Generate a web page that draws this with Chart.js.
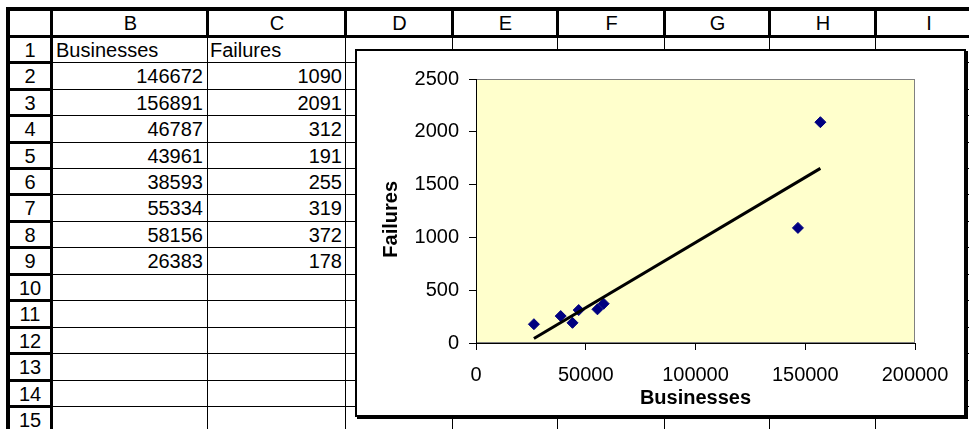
<!DOCTYPE html>
<html>
<head>
<meta charset="utf-8">
<title>Businesses vs Failures</title>
<script src="https://cdn.jsdelivr.net/npm/chart.js@4.4.0/dist/chart.umd.min.js"></script>
<style>
  body { margin: 0; background: #fff; }
  #sheet { position: relative; width: 969px; height: 429px; overflow: hidden;
           font-family: "Liberation Sans", Arial, sans-serif; font-size: 20px; color: #000; }
  .ln { position: absolute; background: #000; }
  .txt { position: absolute; white-space: nowrap; line-height: 26px; height: 26px; }
  #chartBox { position: absolute; left: 355px; top: 49px; width: 607px; height: 364px;
              border: 2px solid #000; box-shadow: 2px 2px 0 #000; background: #fff; }
  #chartBox canvas { display: block; }
</style>
</head>
<body>
<div id="sheet">
  <div id="chartBox"><canvas id="scatterChart" width="607" height="364"></canvas></div>
</div>
<script>
// data from the sheet
var businesses = [146672, 156891, 46787, 43961, 38593, 55334, 58156, 26383];
var failures = [1090, 2091, 312, 191, 255, 319, 372, 178];
var headerB = "Businesses";
var headerC = "Failures";
var columnLetters = ["B", "C", "D", "E", "F", "G", "H", "I"];
var rowCount = 15;
var xTicks = [0, 50000, 100000, 150000, 200000];
var yTicks = [0, 500, 1000, 1500, 2000, 2500];

var FONT = '"Liberation Sans", Arial, sans-serif';

// ---- spreadsheet grid ----
var sheet = document.getElementById("sheet");
var chartBox = document.getElementById("chartBox");
var colX = [52, 207, 345, 452, 557, 664, 769, 875, 981];
function rowY(r) { return 35.7 + 26.45 * r; }

function line(l, t, w, h) {
  var d = document.createElement("div");
  d.className = "ln";
  d.style.left = l + "px"; d.style.top = t + "px";
  d.style.width = w + "px"; d.style.height = h + "px";
  sheet.insertBefore(d, chartBox);
}
function text(str, l, t, w, align) {
  var d = document.createElement("div");
  d.className = "txt";
  d.textContent = str;
  d.style.left = l + "px"; d.style.top = t + "px";
  d.style.width = w + "px"; d.style.textAlign = align;
  sheet.insertBefore(d, chartBox);
}

// thin cell lines
for (var r = 1; r <= rowCount; r++) line(53, Math.round(rowY(r)), 916, 1);
for (var i = 1; i < colX.length - 1; i++) line(colX[i], 37, 1, 392);
// thick header lines
line(6, 7, 963, 4);
line(6, 7, 4, 422);
line(6, 35, 963, 3);
line(50, 7, 3, 422);
for (var i = 1; i < colX.length - 1; i++) line(colX[i] - 1, 7, 3, 30);
for (var r = 1; r <= rowCount; r++) line(6, Math.round(rowY(r)) - 1, 47, 3);

// header texts
for (var i = 0; i < columnLetters.length; i++) {
  text(columnLetters[i], colX[i] + 2, 10, colX[i + 1] - colX[i] - 2, "center");
}
for (var r = 1; r <= rowCount; r++) {
  text(String(r), 10, rowY(r - 1) + 1, 40, "center");
}
text(headerB, 56, rowY(0) + 1, 148, "left");
text(headerC, 210, rowY(0) + 1, 132, "left");
for (var k = 0; k < businesses.length; k++) {
  text(String(businesses[k]), 55, rowY(k + 1) + 1, 148, "right");
  text(String(failures[k]), 209, rowY(k + 1) + 1, 133, "right");
}

// ---- chart ----
var points = businesses.map(function (b, k) { return { x: b, y: failures[k] }; });

// least squares trendline, like the Excel linear trendline
var n = businesses.length;
var mx = businesses.reduce(function (a, b) { return a + b; }, 0) / n;
var my = failures.reduce(function (a, b) { return a + b; }, 0) / n;
var sxy = 0, sxx = 0;
for (var k = 0; k < n; k++) {
  sxy += (businesses[k] - mx) * (failures[k] - my);
  sxx += (businesses[k] - mx) * (businesses[k] - mx);
}
var slope = sxy / sxx;
var intercept = my - slope * mx;
var xLo = Math.min.apply(null, businesses);
var xHi = Math.max.apply(null, businesses);
var trend = [
  { x: xLo, y: intercept + slope * xLo },
  { x: xHi, y: intercept + slope * xHi }
];

var plotBg = {
  id: "plotBg",
  beforeDraw: function (chart) {
    var a = chart.chartArea, ctx = chart.ctx;
    ctx.save();
    ctx.fillStyle = "#FFFFCC";
    ctx.fillRect(a.left, a.top, a.right - a.left, a.bottom - a.top);
    ctx.strokeStyle = "#808080";
    ctx.lineWidth = 1;
    ctx.strokeRect(a.left + 0.5, a.top + 0.5, a.right - a.left - 1, a.bottom - a.top - 1);
    ctx.restore();
  }
};

Chart.defaults.font.family = FONT;
Chart.defaults.color = "#000";

var ctx = document.getElementById("scatterChart").getContext("2d");
var myChart = new Chart(ctx, {
  type: "scatter",
  data: {
    datasets: [{
      label: "Trend",
      data: trend,
      showLine: true,
      borderColor: "#000",
      borderWidth: 3,
      pointRadius: 0,
      fill: false,
      order: 0
    }, {
      label: "Failures",
      data: points,
      pointStyle: "rectRot",
      pointRadius: 5.5,
      backgroundColor: "#000080",
      borderColor: "#000080",
      borderWidth: 1,
      order: 1
    }]
  },
  options: {
    responsive: false,
    animation: false,
    events: [],
    layout: { padding: { top: 28, right: 49, left: 0, bottom: 0 } },
    plugins: { legend: { display: false }, tooltip: { enabled: false } },
    scales: {
      x: {
        type: "linear",
        min: xTicks[0],
        max: xTicks[xTicks.length - 1],
        afterFit: function (s) { s.height = 72; },
        afterBuildTicks: function (s) { s.ticks = xTicks.map(function (v) { return { value: v }; }); },
        ticks: { padding: 13, color: "#000", font: { size: 20 }, maxRotation: 0, autoSkip: false,
                 callback: function (v) { return String(v); } },
        grid: { drawOnChartArea: false, drawTicks: true, tickLength: 7, color: "#000" },
        border: { color: "#000", width: 1 },
        title: { display: true, text: headerB, color: "#000",
                 font: { size: 20, weight: "bold" }, padding: { top: 0, bottom: 5 } }
      },
      y: {
        type: "linear",
        min: yTicks[0],
        max: yTicks[yTicks.length - 1],
        afterFit: function (s) { s.width = 119; },
        afterBuildTicks: function (s) { s.ticks = yTicks.map(function (v) { return { value: v }; }); },
        ticks: { padding: 10, color: "#000", font: { size: 20 }, autoSkip: false,
                 callback: function (v) { return String(v); } },
        grid: { drawOnChartArea: false, drawTicks: true, tickLength: 7, color: "#000" },
        border: { color: "#000", width: 1 },
        // trailing spaces push the rotated title a bit lower, as in the original
        title: { display: true, text: headerC + "   ", color: "#000",
                 font: { size: 20, weight: "bold" }, padding: { top: 22, bottom: 0 } }
      }
    }
  },
  plugins: [plotBg]
});
</script>
</body>
</html>
